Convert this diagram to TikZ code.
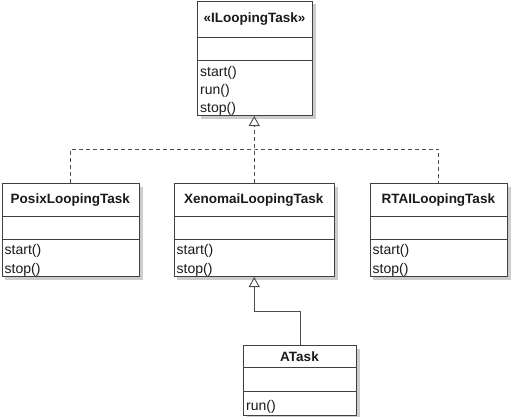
\documentclass[tikz,border=0pt]{standalone}
\usepackage{fontspec}
\setmainfont{Liberation Sans}
\usetikzlibrary{arrows.meta}
\tikzset{
  classbox/.style={draw=black!75, line width=1pt, fill=white, inner sep=0pt, anchor=north west},
  shadowbox/.style={fill=black!20, draw=none, inner sep=0pt, anchor=north west},
  sepline/.style={draw=black!75, line width=1pt},
  clsname/.style={font=\fontsize{13.5}{16}\selectfont\bfseries, inner sep=0pt, text=black!90},
  member/.style={font=\fontsize{14}{16}\selectfont, inner sep=0pt, anchor=base west, text=black!90},
  realize/.style={draw=black!70, line width=1pt, dash pattern=on 4pt off 3pt},
  inherit/.style={draw=black!70, line width=1pt},
  gentip/.style={-{Triangle[open, width=11pt, length=10pt, line width=0.9pt]}},
}
% one UML class: #1 name, #2 x, #3 y, #4 width, #5 height, #6 name row, #7 attribute row
\newcommand{\umlclass}[7]{%
  \node[shadowbox, minimum width=#4pt, minimum height=#5pt] at (#2+3.5,#3+3.5) {};
  \node[classbox, minimum width=#4pt, minimum height=#5pt] (#1) at (#2,#3) {};
  \draw[sepline] (#2,#3+#6) -- ++(#4,0);
  \draw[sepline] (#2,#3+#7) -- ++(#4,0);
}
\begin{document}
\begin{tikzpicture}[x=1pt, y=-1pt]
\useasboundingbox (0,0) rectangle (520,416);

% interface
\umlclass{ilt}{197}{0.5}{115}{114.5}{36.5}{59.5}
\node[clsname] (iltname) at (254.5,19) {«ILoopingTask»};
\node[member] (iltm1) at (200,76) {start()};
\node[member] (iltm2) at (200,94.3) {run()};
\node[member] (iltm3) at (200,112.6) {stop()};

% implementations
\umlclass{posix}{1.5}{183}{137.5}{93}{33}{56}
\node[clsname] (posixname) at (70.25,200) {PosixLoopingTask};
\node[member] (posixm1) at (4.5,254) {start()};
\node[member] (posixm2) at (4.5,273) {stop()};

\umlclass{xen}{173.5}{183}{160.5}{93}{33}{56}
\node[clsname] (xenname) at (253.75,200) {XenomaiLoopingTask};
\node[member] (xenm1) at (176.5,254) {start()};
\node[member] (xenm2) at (176.5,273) {stop()};

\umlclass{rtai}{369.5}{183}{137.5}{93}{33}{56}
\node[clsname] (rtainame) at (438.25,200) {RTAILoopingTask};
\node[member] (rtaim1) at (372.5,254) {start()};
\node[member] (rtaim2) at (372.5,273) {stop()};

% subclass
\umlclass{atask}{243}{345}{113}{70}{22.5}{46}
\node[clsname] (ataskname) at (299.5,356.5) {ATask};
\node[member] (ataskm1) at (246,410) {run()};

% realization links
\coordinate (hub) at (254,149);
\draw[realize] (posix.north) |- (hub) -| (rtai.north);
\draw[realize, gentip] (xen.north) -- (xen.north |- ilt.south);

% generalization link
\draw[inherit, gentip] (atask.north) -- ++(0,-34) -| (xen.south);
\end{tikzpicture}
\end{document}
